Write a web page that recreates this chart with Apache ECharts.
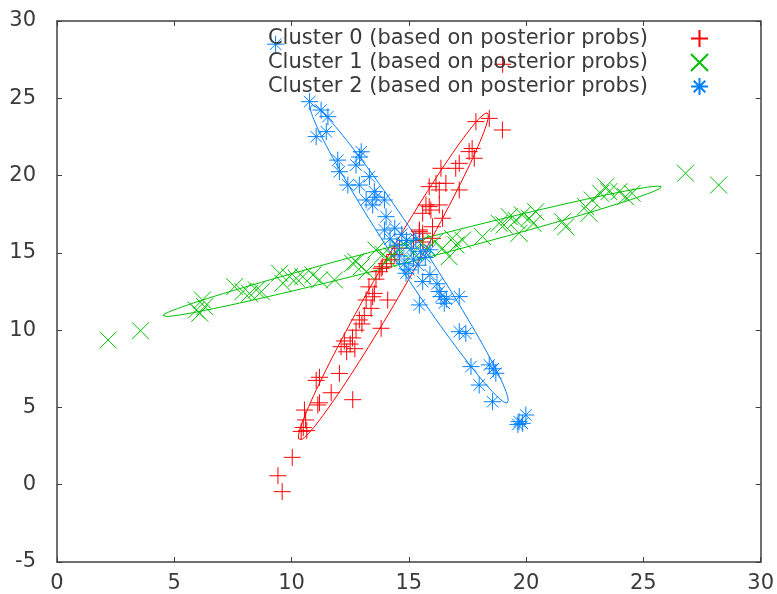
<!DOCTYPE html>
<html>
<head>
<meta charset="utf-8">
<script src="https://cdn.jsdelivr.net/npm/echarts@6/dist/echarts.min.js"></script>
<style>html,body{margin:0;padding:0;background:#fff}#c{width:777px;height:594px}</style>
</head>
<body>
<div id="c"></div>
<script>
const seriesNames = ['Cluster 0 (based on posterior probs)', 'Cluster 1 (based on posterior probs)', 'Cluster 2 (based on posterior probs)'];
const colors = ['#ff0000', '#00c000', '#0080ff'];
const xTicks = [0, 5, 10, 15, 20, 25, 30];
const yTicks = [-5, 0, 5, 10, 15, 20, 25, 30];

const cluster0 = [[9.42,0.58],[9.6,-0.45],[10.03,1.77],[10.41,3.45],[10.65,3.5],[10.5,3.7],[10.6,4.19],[10.55,4.83],[11.12,5.16],[11.19,5.3],[11.69,5.95],[12.61,5.5],[11.19,6.95],[11.05,6.75],[12.04,7.2],[12.11,8.93],[12.35,8.6],[12.5,9.1],[12.7,8.8],[12.25,9.3],[12.6,9.5],[12.75,10.0],[12.89,10.66],[13.0,10.4],[13.1,10.95],[13.82,10.12],[13.39,11.41],[13.18,11.95],[14.1,11.95],[13.53,12.38],[13.46,12.16],[13.3,12.8],[13.6,13.3],[13.74,13.78],[13.82,14.0],[13.87,14.1],[14.05,14.3],[14.25,14.55],[14.4,14.9],[14.6,15.3],[15.2,15.8],[15.45,16.37],[15.6,15.7],[16.01,15.94],[15.59,16.27],[15.45,16.48],[16.01,16.69],[16.44,17.24],[15.59,17.56],[15.94,17.77],[15.73,18.1],[15.87,17.99],[16.3,18.1],[15.87,19.28],[16.16,19.5],[16.3,19.07],[16.58,19.5],[17.15,19.07],[16.37,20.47],[17.0,20.47],[17.15,20.79],[17.57,21.55],[17.79,21.12],[17.7,21.75],[17.86,23.49],[18.43,23.7],[18.99,22.95],[19.0,27.2]];
const cluster1 = [[2.18,9.36],[3.56,9.96],[5.94,11.3],[6.09,11.09],[6.2,11.95],[6.3,11.52],[7.57,12.81],[7.93,12.49],[8.21,12.38],[8.5,12.6],[8.71,12.49],[9.49,13.68],[9.63,13.03],[9.91,13.46],[10.2,13.35],[10.48,13.46],[10.91,13.57],[11.19,13.25],[11.83,13.25],[12.61,14.32],[12.75,14.43],[12.97,14.1],[13.2,13.8],[13.6,15.18],[13.9,14.9],[14.1,14.6],[14.3,14.8],[14.6,15.2],[14.9,15.4],[15.2,15.0],[15.5,15.6],[15.8,15.3],[16.1,15.7],[16.44,15.29],[16.72,14.75],[16.86,15.94],[17.01,15.51],[17.29,15.83],[18.14,16.05],[18.85,16.91],[19.06,16.8],[19.28,17.34],[19.56,17.12],[19.7,16.27],[19.84,17.45],[20.13,17.24],[20.41,17.66],[20.3,16.9],[21.55,17.02],[21.69,16.69],[22.54,17.99],[22.68,17.56],[22.82,18.42],[23.18,18.85],[23.39,19.28],[23.53,18.96],[23.96,18.96],[24.24,18.63],[24.52,18.85],[26.8,20.15],[28.21,19.39]];
const cluster2 = [[9.32,28.5],[10.77,24.78],[11.26,24.24],[11.55,23.81],[11.48,22.84],[11.05,22.52],[12.97,21.54],[12.9,21.2],[11.97,21.0],[12.75,20.68],[12.04,20.25],[12.4,19.39],[12.89,19.39],[13.32,19.93],[13.53,18.96],[13.18,18.42],[13.6,18.6],[13.46,18.1],[13.96,18.42],[14.03,17.34],[13.96,16.48],[14.4,16.6],[14.2,15.9],[14.5,15.5],[14.7,16.2],[14.9,15.8],[15.1,15.3],[15.3,15.9],[15.5,15.1],[15.2,14.6],[14.6,14.8],[14.8,14.3],[15.7,14.7],[15.9,15.2],[15.4,14.2],[15.0,13.9],[14.88,13.68],[15.59,13.14],[15.9,13.6],[16.2,13.0],[16.37,12.17],[16.51,11.74],[16.3,12.5],[16.6,12.0],[15.45,11.63],[17.15,12.17],[17.15,9.9],[17.43,9.79],[17.65,7.64],[18.43,7.75],[18.6,7.5],[18.71,7.21],[18.0,6.45],[18.57,5.37],[19.99,4.51],[19.7,4.08],[19.84,3.97],[19.65,3.9]];

// ellipse parameters: center, tip of major half-axis, minor half-length (data units)
const ellipseCenters = [[14.34, 13.47], [15.14, 15.1], [15.02, 14.93]];
const ellipseTips = [[18.34, 24.05], [25.77, 19.28], [19.19, 5.29]];
const ellipseMinor = [0.68, 0.6, 0.7];

function ellipsePath(c, tip, b) {
  const ax = tip[0] - c[0], ay = tip[1] - c[1];
  const len = Math.hypot(ax, ay);
  const vx = -ay / len * b, vy = ax / len * b;
  const pts = [];
  for (let i = 0; i <= 120; i++) {
    const t = i / 120 * 2 * Math.PI;
    pts.push([c[0] + Math.cos(t) * ax + Math.sin(t) * vx, c[1] + Math.cos(t) * ay + Math.sin(t) * vy]);
  }
  return pts;
}

const symbols = [
  'path://M5,0L5,10M0,5L10,5',
  'path://M0,0L10,10M0,10L10,0',
  'path://M5,0L5,10M0,5L10,5M1.6,1.6L8.4,8.4M1.6,8.4L8.4,1.6'
];
const clusters = [cluster0, cluster1, cluster2];

const series = [];
clusters.forEach((d, i) => {
  series.push({
    name: 'e' + i, type: 'line', data: ellipsePath(ellipseCenters[i], ellipseTips[i], ellipseMinor[i]),
    showSymbol: false, symbol: 'none', lineStyle: { color: colors[i], width: 1 }, silent: true, z: 1
  });
});
clusters.forEach((d, i) => {
  series.push({
    name: seriesNames[i], type: 'scatter', data: d, symbol: symbols[i], symbolSize: 17,
    itemStyle: { color: 'rgba(0,0,0,0)', borderColor: colors[i], borderWidth: 1, opacity: 1 },
    emphasis: { disabled: true }, z: 2
  });
});

const axisCommon = {
  type: 'value', splitLine: { show: false },
  axisLine: { show: true, onZero: false, lineStyle: { color: '#404040', width: 1.5 } },
  axisTick: { show: true, inside: true, length: 5, lineStyle: { color: '#404040', width: 1 } }
};
const labelFont = { fontFamily: 'DejaVu Sans', fontSize: 21, color: '#3a3a3a' };

const chart = echarts.init(document.getElementById('c'), null, { renderer: 'canvas' });
chart.setOption({
  animation: false,
  backgroundColor: '#fff',
  grid: { left: 57, right: 15, top: 21, bottom: 32 },
  legend: {
    data: seriesNames, right: 68, top: 28, padding: 0, orient: 'vertical', align: 'right',
    itemWidth: 17, itemHeight: 17, itemGap: 3, selectedMode: false,
    textStyle: Object.assign({}, labelFont, { padding: [0, 38, 0, 0] })
  },
  xAxis: [
    Object.assign({}, axisCommon, { min: xTicks[0], max: xTicks[xTicks.length - 1], interval: 5, position: 'bottom',
      axisLabel: Object.assign({}, labelFont, { margin: 11 }) }),
    Object.assign({}, axisCommon, { min: xTicks[0], max: xTicks[xTicks.length - 1], interval: 5, position: 'top',
      axisLabel: { show: false } })
  ],
  yAxis: [
    Object.assign({}, axisCommon, { min: yTicks[0], max: yTicks[yTicks.length - 1], interval: 5, position: 'left',
      axisLabel: Object.assign({}, labelFont, { margin: 21 }) }),
    Object.assign({}, axisCommon, { min: yTicks[0], max: yTicks[yTicks.length - 1], interval: 5, position: 'right',
      axisLabel: { show: false } })
  ],
  series: series
});
</script>
</body>
</html>
